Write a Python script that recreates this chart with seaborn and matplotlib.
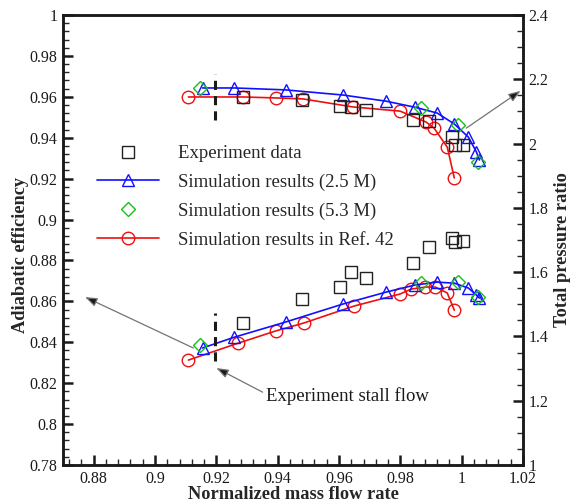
import numpy as np
import pandas as pd
import matplotlib
matplotlib.use("Agg")
import matplotlib.pyplot as plt
from matplotlib.lines import Line2D
from matplotlib.ticker import MultipleLocator, FuncFormatter
import seaborn as sns

# ---- data -------------------------------------------------------------
# Experiment data
exp_flow = [0.9286, 0.9479, 0.9603, 0.9639, 0.9688, 0.9842, 0.9894, 0.9969, 0.9979, 1.0005]
exp_pr = [2.145, 2.136, 2.117, 2.114, 2.104, 2.073, 2.070, 2.020, 1.996, 1.996]
exp_eff = [0.8494, 0.8611, 0.8670, 0.8743, 0.8714, 0.8787, 0.8866, 0.8910, 0.8890, 0.8895]

# Simulation, 2.5 M cells
sim25_flow = [0.9155, 0.9259, 0.9426, 0.9613, 0.9753, 0.9848, 0.9920, 0.9976, 1.0022, 1.0048, 1.0058]
sim25_pr = [2.173, 2.173, 2.167, 2.151, 2.132, 2.113, 2.095, 2.061, 2.020, 1.974, 1.949]
sim25_eff = [0.8372, 0.8425, 0.8499, 0.8587, 0.8645, 0.8680, 0.8694, 0.8689, 0.8665, 0.8631, 0.8616]

# Simulation, 5.3 M cells
sim53_flow = [0.9148, 0.9868, 0.9989, 1.0054]
sim53_pr = [2.173, 2.111, 2.058, 1.943]
sim53_eff = [0.8386, 0.8689, 0.8694, 0.8621]

# Simulation results in Ref. 42
ref_flow_pr = [0.9109, 0.9286, 0.9393, 0.9482, 0.9645, 0.9799, 0.9884, 0.9910, 0.9953, 0.9976]
ref_pr = [2.145, 2.145, 2.142, 2.139, 2.114, 2.101, 2.067, 2.048, 1.989, 1.893]
ref_flow_eff = [0.9109, 0.9272, 0.9393, 0.9485, 0.9649, 0.9799, 0.9835, 0.9881, 0.9914, 0.9953, 0.9976]
ref_eff = [0.8313, 0.8396, 0.8455, 0.8494, 0.8577, 0.8636, 0.8660, 0.8670, 0.8670, 0.8641, 0.8557]

stall_flow = 0.9195

labels = ["Experiment data", "Simulation results (2.5 M)",
          "Simulation results (5.3 M)", "Simulation results in Ref. 42"]

# ---- style ------------------------------------------------------------
sns.set_theme(style="ticks")
plt.rcParams["font.family"] = ["Liberation Serif", "DejaVu Serif"]
plt.rcParams["mathtext.fontset"] = "stix"

BLUE, GREEN, RED, BLACK = "#1010ff", "#18c018", "#ee1010", "#222222"
MS = 9

fig = plt.figure(figsize=(5.81, 5.04), dpi=100)
ax = fig.add_axes([63 / 581, 1 - 465 / 504, 460 / 581, 450 / 504])
ax2 = ax.twinx()


def line_series(axis, x, y, color, marker, lw=1.2, ms=MS, ls="-"):
    df = pd.DataFrame({"x": x, "y": y})
    sns.lineplot(data=df, x="x", y="y", ax=axis, color=color, lw=lw,
                 linestyle=ls, marker=marker, markersize=ms,
                 markerfacecolor="none", markeredgecolor=color,
                 markeredgewidth=1.0, sort=False, estimator=None)


# efficiency (left axis)
line_series(ax, ref_flow_eff, ref_eff, RED, "o")
line_series(ax, sim25_flow, sim25_eff, BLUE, "^")
line_series(ax, sim53_flow, sim53_eff, GREEN, "D", lw=0, ms=7.5, ls="none")
line_series(ax, exp_flow, exp_eff, BLACK, "s", lw=0, ms=8.5, ls="none")

# pressure ratio (right axis)
line_series(ax2, ref_flow_pr, ref_pr, RED, "o")
line_series(ax2, sim25_flow, sim25_pr, BLUE, "^")
line_series(ax2, sim53_flow, sim53_pr, GREEN, "D", lw=0, ms=7.5, ls="none")
line_series(ax2, exp_flow, exp_pr, BLACK, "s", lw=0, ms=8.5, ls="none")

# stall flow markers
ax.plot([stall_flow, stall_flow], [0.8308, 0.8543], color="k", lw=2.2,
        ls=(0, (3, 2)))
ax2.plot([stall_flow, stall_flow], [2.073, 2.215], color="k", lw=2.2,
         ls=(0, (3, 2)))

# ---- axes ---------------------------------------------------------------
ax.set_xlim(0.87, 1.02)
ax.set_ylim(0.78, 1.0)
ax2.set_ylim(1.0, 2.4)

fmt = FuncFormatter(lambda v, p: f"{v:.2f}".rstrip("0").rstrip("."))
ax.xaxis.set_major_locator(MultipleLocator(0.02))
ax.xaxis.set_minor_locator(MultipleLocator(0.004))
ax.yaxis.set_major_locator(MultipleLocator(0.02))
ax.yaxis.set_minor_locator(MultipleLocator(0.004))
ax2.yaxis.set_major_locator(MultipleLocator(0.2))
ax2.yaxis.set_minor_locator(MultipleLocator(0.05))
ax.xaxis.set_major_formatter(fmt)
ax.yaxis.set_major_formatter(fmt)
ax2.yaxis.set_major_formatter(FuncFormatter(lambda v, p: f"{v:.1f}".rstrip("0").rstrip(".")))

for a in (ax, ax2):
    a.tick_params(which="major", direction="in", length=7, width=1.8,
                  labelsize=11.5, colors="k", pad=4)
    a.tick_params(which="minor", direction="in", length=4, width=1.0)
    for s in a.spines.values():
        s.set_linewidth(1.8)
        s.set_color("k")
ax.tick_params(axis="y", which="both", right=False)
ax.tick_params(axis="x", which="both", top=False)
ax2.tick_params(axis="y", which="both", left=False, right=True)

ax.set_xlabel("Normalized mass flow rate", fontsize=13.2, fontweight="bold",
              labelpad=-0.5)
ax.set_ylabel("Adiabatic efficiency", fontsize=13.2, fontweight="bold")
ax2.set_ylabel("Total pressure ratio", fontsize=13.2, fontweight="bold")
# label positions in axes fractions
ax.yaxis.set_label_coords((29 - 63) / 460, (465 - 255) / 450)
ax2.yaxis.set_label_coords((554 - 63) / 460, (465 - 250) / 450)

# ---- annotations ------------------------------------------------------
arrow = dict(arrowstyle="-|>,head_length=0.6,head_width=0.22",
             ec="0.45", fc="k", lw=0.9, shrinkA=0, shrinkB=0)
ax2.annotate("", xy=(1.0192, 2.164), xytext=(1.0015, 2.048), arrowprops=arrow)
ax.annotate("", xy=(0.8772, 0.8621), xytext=(0.9125, 0.8372), arrowprops=arrow)
ax.annotate("", xy=(0.9200, 0.8274), xytext=(0.9351, 0.8156), arrowprops=arrow)
ax.text(0.9361, 0.8137, "Experiment stall flow", fontsize=13.5,
        ha="left", va="center", color="k")

# ---- legend ------------------------------------------------------------
handles = [
    Line2D([], [], ls="none", marker="s", ms=8.5, mfc="none", mec=BLACK),
    Line2D([], [], color=BLUE, lw=1.2, marker="^", ms=MS, mfc="none", mec=BLUE),
    Line2D([], [], ls="none", marker="D", ms=7.5, mfc="none", mec=GREEN),
    Line2D([], [], color=RED, lw=1.2, marker="o", ms=MS, mfc="none", mec=RED),
]
leg = ax2.legend(handles, labels, loc="upper left",
                 bbox_to_anchor=((97 - 63) / 460, (465 - 145) / 450),
                 frameon=False, fontsize=13.5, handlelength=3.3,
                 handletextpad=1.0, labelspacing=0.62, borderpad=0,
                 borderaxespad=0)

fig.savefig("out.png", dpi=100)
